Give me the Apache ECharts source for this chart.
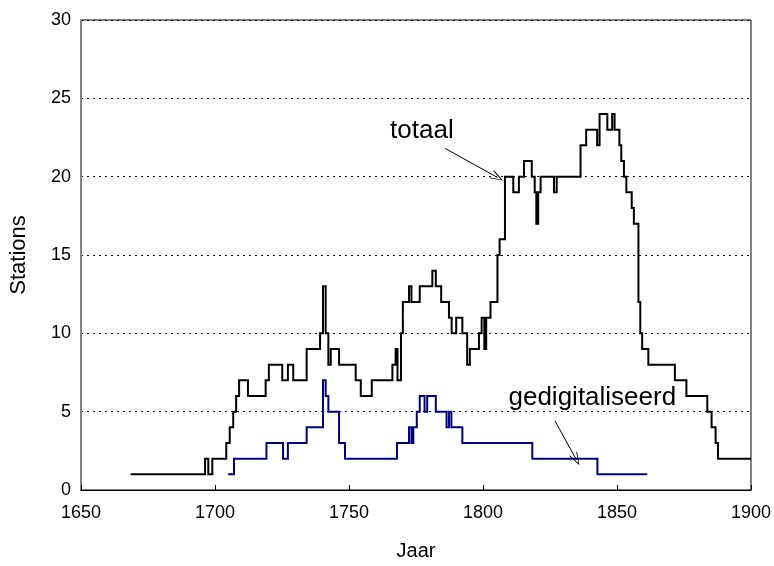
<!DOCTYPE html>
<html>
<head>
<meta charset="utf-8">
<script src="https://cdn.jsdelivr.net/npm/echarts@6/dist/echarts.min.js"></script>
<style>
  html, body { margin: 0; padding: 0; background: #fff; }
  #chart { width: 774px; height: 566px; }
</style>
</head>
<body>
<div id="chart"></div>
<script>
  // jaar waarop een trede begint, met het aantal stations vanaf dat jaar
  var totaalYears = [1668.5, 1696.3, 1697.5, 1699.0, 1704.2, 1705.5, 1706.8, 1707.9, 1709.0, 1712.3,
    1718.9, 1720.1, 1725.1, 1727.2, 1729.2, 1734.2, 1739.2, 1740.3, 1741.3, 1742.3,
    1743.2, 1746.3, 1752.5, 1754.4, 1758.5, 1766.2, 1767.4, 1768.1, 1769.4, 1770.1,
    1772.4, 1773.3, 1776.4, 1781.1, 1782.4, 1784.4, 1787.3, 1788.3, 1790.0, 1792.3,
    1794.1, 1795.1, 1798.5, 1799.5, 1800.5, 1801.2, 1802.8, 1805.4, 1806.2, 1808.2,
    1811.3, 1813.4, 1815.3, 1818.2, 1819.3, 1819.9, 1820.6, 1821.5, 1826.5, 1827.5,
    1836.4, 1838.5, 1842.6, 1843.5, 1846.4, 1848.2, 1849.1, 1850.9, 1851.6, 1852.6,
    1853.5, 1855.5, 1856.3, 1858.0, 1858.7, 1859.4, 1861.7, 1871.6, 1875.9, 1883.7,
    1885.3, 1886.8, 1887.7, 1900.0];
  var totaalValues = [1, 2, 1, 2, 3, 4, 5, 6, 7, 6,
    7, 8, 7, 8, 7, 9, 10, 13, 10, 8,
    9, 8, 7, 6, 7, 8, 9, 7, 10, 12,
    13, 12, 13, 14, 13, 12, 11, 10, 11, 10,
    8, 9, 10, 11, 9, 11, 12, 15, 16, 20,
    19, 20, 21, 20, 19, 17, 19, 20, 19, 20,
    22, 23, 22, 24, 23, 24, 23, 22, 21, 20,
    19, 18, 17, 12, 10, 9, 8, 7, 6, 5,
    4, 3, 2, 2];

  var digYears = [1704.9, 1707.1, 1719.2, 1725.4, 1727.2, 1734.2, 1740.3, 1741.3, 1742.3, 1746.3,
    1748.5, 1767.9, 1772.4, 1773.3, 1774.0, 1775.3, 1776.4, 1778.2, 1779.2, 1782.4,
    1786.4, 1787.3, 1788.2, 1792.3, 1818.4, 1842.7, 1861.3];
  var digValues = [1, 2, 3, 2, 3, 4, 7, 6, 5, 3,
    2, 3, 4, 3, 4, 5, 6, 5, 6, 5,
    4, 5, 4, 3, 2, 1, 1];

  var xTicks = [1650, 1900, 50];
  var yTicks = [0, 30, 5];

  // trap: waarde geldt tot het volgende jaartal
  function stairs (xs, ys) {
    let out = [];
    for (let i = 0; i < xs.length; i++) {
      if (i > 0) {
        out.push([xs[i], ys[i - 1]]);
      }
      out.push([xs[i], ys[i]]);
    }
    return out;
  }

  var font = "'Liberation Sans', Arial, sans-serif";
  var arrowHead = 'path://M5,0 L10,13 L9,13 L5,2.5 L1,13 L0,13 Z';

  var myChart = echarts.init(document.getElementById('chart'));
  myChart.setOption({
    animation: false,
    backgroundColor: '#fff',
    textStyle: { fontFamily: font },
    grid: {
      left: 81,
      right: 22,
      top: 20,
      bottom: 76,
      show: true,
      borderColor: '#000',
      borderWidth: 1
    },
    xAxis: {
      type: 'value',
      min: xTicks[0],
      max: xTicks[1],
      interval: xTicks[2],
      name: 'Jaar',
      nameLocation: 'middle',
      nameGap: 51,
      nameTextStyle: { color: '#000', fontSize: 20, fontFamily: font },
      axisLine: { show: true, lineStyle: { color: '#000', width: 1 } },
      axisTick: { show: true, inside: true, length: 5, lineStyle: { color: '#000' } },
      axisLabel: {
        color: '#000',
        fontSize: 18,
        fontFamily: font,
        margin: 14,
        formatter: function (v) { return String(v); }
      },
      splitLine: { show: false }
    },
    yAxis: {
      type: 'value',
      min: yTicks[0],
      max: yTicks[1],
      interval: yTicks[2],
      name: 'Stations',
      nameLocation: 'middle',
      nameGap: 51,
      nameRotate: 90,
      nameTextStyle: { color: '#000', fontSize: 22, fontFamily: font },
      axisLine: { show: true, lineStyle: { color: '#808080', width: 2 } },
      axisTick: { show: false },
      axisLabel: { color: '#000', fontSize: 18, fontFamily: font, margin: 10 },
      splitLine: { show: true, lineStyle: { color: '#000', width: 1, type: [2, 4] } }
    },
    series: [{
      name: 'totaal',
      type: 'lines',
      coordinateSystem: 'cartesian2d',
      polyline: true,
      silent: true,
      data: [{ coords: stairs(totaalYears, totaalValues) }],
      lineStyle: { color: '#000', width: 2, opacity: 1 }
    }, {
      name: 'gedigitaliseerd',
      type: 'lines',
      coordinateSystem: 'cartesian2d',
      polyline: true,
      silent: true,
      data: [{ coords: stairs(digYears, digValues) }],
      lineStyle: { color: '#000080', width: 2, opacity: 1 }
    }, {
      name: 'annotaties',
      type: 'line',
      data: [],
      silent: true,
      markLine: {
        silent: true,
        symbol: ['none', arrowHead],
        symbolSize: [9, 13],
        label: { show: false },
        lineStyle: { color: '#000', width: 1, type: 'solid' },
        data: [
          [{ coord: [1785.9, 21.8] }, { coord: [1805.4, 19.95] }],
          [{ coord: [1826.8, 4.43] }, { coord: [1834.8, 1.95] }]
        ]
      },
      markPoint: {
        silent: true,
        symbol: 'circle',
        symbolSize: 1,
        itemStyle: { color: 'rgba(0,0,0,0)' },
        label: { show: true, position: 'inside', color: '#000', fontSize: 26, fontFamily: font },
        data: [
          { coord: [1777.2, 22.9], label: { formatter: 'totaal' } },
          { coord: [1840.8, 5.87], label: { formatter: 'gedigitaliseerd' } }
        ]
      }
    }]
  });
</script>
</body>
</html>
